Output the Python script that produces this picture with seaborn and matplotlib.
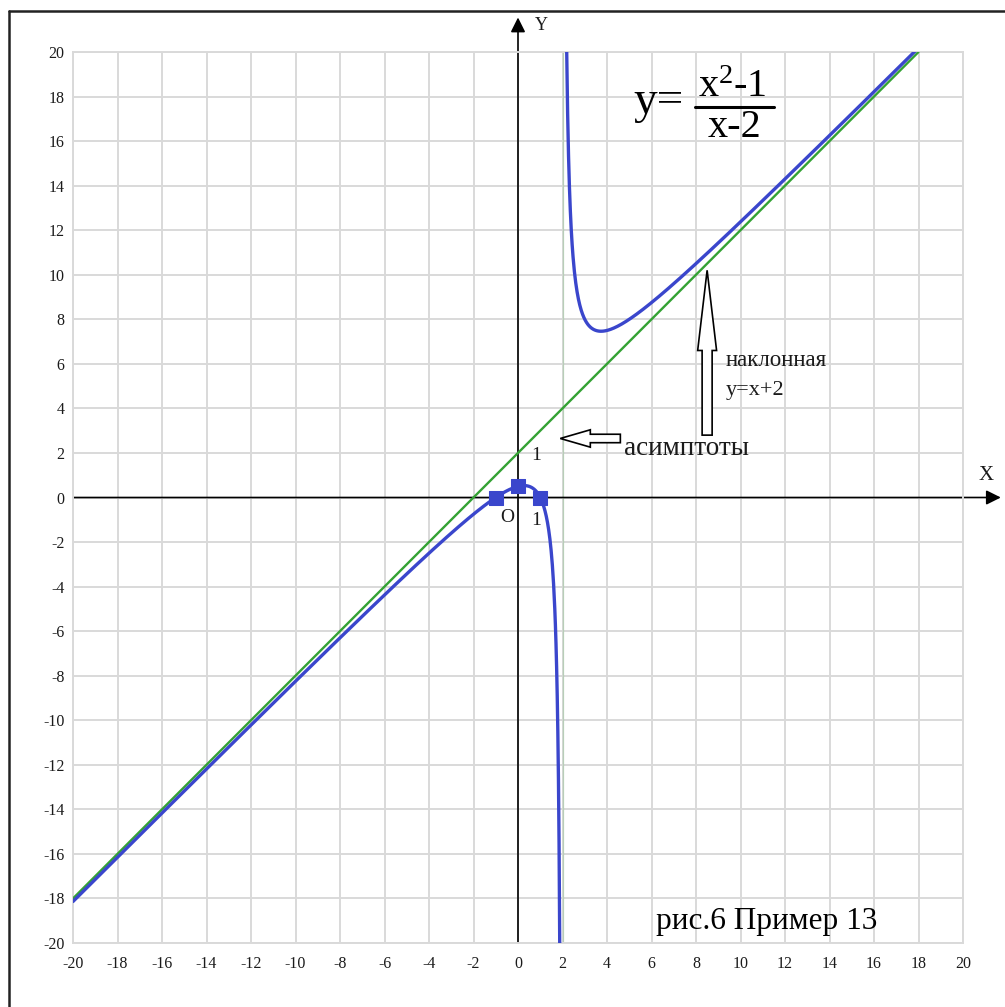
import numpy as np
import pandas as pd
import matplotlib
matplotlib.use("Agg")
import matplotlib.pyplot as plt
from matplotlib.patches import FancyArrow
from matplotlib.lines import Line2D
import seaborn as sns

# ---- data -------------------------------------------------------------
tick_values = list(range(-20, 21, 2))
num_coef = [1, 0, -1]          # x^2 - 1
den_coef = [1, -2]             # x - 2
vert_asym_x = 2                # x = 2
slant_slope = 1                # y = x + 2
slant_intercept = 2
slant_x_range = [-20, 18]
left_branch_range = [-20, 1.9]
right_branch_range = [2.15, 18.3]
key_x = [-1, 0, 1]
key_y = [0, 0.5, 0]

# ---- styling ----------------------------------------------------------
sns.set_style("white")
plt.rcParams["font.family"] = ["Liberation Serif", "DejaVu Serif"]
plt.rcParams["axes.unicode_minus"] = False
plt.rcParams["mathtext.fontset"] = "custom"
plt.rcParams["mathtext.rm"] = "Liberation Serif"
plt.rcParams["mathtext.it"] = "Liberation Serif"
plt.rcParams["mathtext.default"] = "regular"

BLUE = "#3a46cc"
GREEN = "#34a234"
GRID = "#d9d9d9"
INK = "#1b1b1b"


def f(x):
    return np.polyval(num_coef, x) / np.polyval(den_coef, x)


xl = np.linspace(*left_branch_range, 800)
xr = np.linspace(*right_branch_range, 800)
curve = pd.DataFrame({
    "x": np.concatenate([xl, xr]),
    "y": np.concatenate([f(xl), f(xr)]),
    "branch": ["left"] * len(xl) + ["right"] * len(xr),
})
slant = pd.DataFrame({"x": slant_x_range,
                      "y": [slant_slope * v + slant_intercept for v in slant_x_range]})
vert = pd.DataFrame({"x": [vert_asym_x, vert_asym_x], "y": [-20, 20]})
points = pd.DataFrame({"x": key_x, "y": key_y})

fig = plt.figure(figsize=(10.05, 10.07), dpi=100)
ax = fig.add_axes([73 / 1005, 64 / 1007, 890 / 1005, 891 / 1007])

ax.set_xlim(-20, 20)
ax.set_ylim(-20, 20)
ax.set_xticks(tick_values)
ax.set_yticks(tick_values)
ax.grid(which="major", color=GRID, lw=1.4)
ax.tick_params(which="both", length=0)
ax.tick_params(axis="x", pad=9, labelsize=11.5, labelcolor=INK)
ax.tick_params(axis="y", pad=6, labelsize=11.5, labelcolor=INK)
for sp in ax.spines.values():
    sp.set_color(GRID)
    sp.set_linewidth(1.4)
ax.set_axisbelow(True)

# asymptotes
sns.lineplot(data=slant, x="x", y="y", ax=ax, color=GREEN, lw=1.7, zorder=3)
sns.lineplot(data=vert, x="x", y="y", ax=ax, color=GREEN, lw=2.0, zorder=3,
             sort=False)

# function graph
sns.lineplot(data=curve, x="x", y="y", units="branch", estimator=None,
             ax=ax, color=BLUE, lw=2.4, zorder=4)
sns.scatterplot(data=points, x="x", y="y", ax=ax, marker="s", s=90,
                color=BLUE, edgecolor=BLUE, zorder=5)
ax.set_xlabel("")
ax.set_ylabel("")

# coordinate axes with arrowheads
ax.annotate("", xy=(21.7, 0), xytext=(-20, 0), annotation_clip=False,
            arrowprops=dict(arrowstyle="-|>", color="black", lw=1.2,
                            mutation_scale=22, shrinkA=0, shrinkB=0), zorder=2)
ax.annotate("", xy=(0, 21.55), xytext=(0, -20), annotation_clip=False,
            arrowprops=dict(arrowstyle="-|>", color="black", lw=1.2,
                            mutation_scale=22, shrinkA=0, shrinkB=0), zorder=2)
ax.text(21.05, 1.0, "X", fontsize=15, color=INK, ha="center", va="center",
        clip_on=False)
ax.text(1.03, 21.2, "Y", fontsize=13, color=INK, ha="center", va="center",
        clip_on=False)

# unit marks and origin
ax.text(0.8, 1.9, "1", fontsize=14, color=INK, ha="center", va="center")
ax.text(-0.5, -0.9, "O", fontsize=14, color=INK, ha="center", va="center")
ax.text(0.82, -1.05, "1", fontsize=14, color=INK, ha="center", va="center")

# formula
ax.text(5.2, 17.75, "y=", fontsize=34, color="black", ha="left", va="center")
ax.text(9.65, 18.4, "x$^{2}$-1", fontsize=29, color="black", ha="center",
        va="center")
ax.plot([7.95, 11.5], [17.55, 17.55], color="black", lw=2.2)
ax.text(9.75, 16.6, "x-2", fontsize=29, color="black", ha="center",
        va="center")

# annotations with hollow arrows
ax.add_patch(FancyArrow(8.5, 2.8, 0, 7.4, width=0.45, head_width=0.85,
                        head_length=3.6, length_includes_head=True,
                        fc="white", ec="black", lw=1.2, zorder=6))
ax.add_patch(FancyArrow(4.6, 2.65, -2.7, 0, width=0.38, head_width=0.78,
                        head_length=1.35, length_includes_head=True,
                        fc="white", ec="black", lw=1.2, zorder=6))
ax.text(9.35, 6.15, "наклонная", fontsize=16.5, color=INK, ha="left",
        va="center")
ax.text(9.35, 4.8, "y=x+2", fontsize=16, color=INK, ha="left", va="center")
ax.text(4.75, 2.2, "асимптоты", fontsize=19.5, color=INK, ha="left",
        va="center")
ax.text(6.2, -19.05, "рис.6 Пример 13", fontsize=22.5, color="black",
        ha="left", va="center")

# outer frame
fig.add_artist(Line2D([9 / 1005, 1.0], [1 - 11 / 1007] * 2,
                      transform=fig.transFigure, color="#222222", lw=1.8))
fig.add_artist(Line2D([9 / 1005] * 2, [0.0, 1 - 11 / 1007],
                      transform=fig.transFigure, color="#222222", lw=1.8))

fig.savefig("out.png", dpi=100, facecolor="white")
